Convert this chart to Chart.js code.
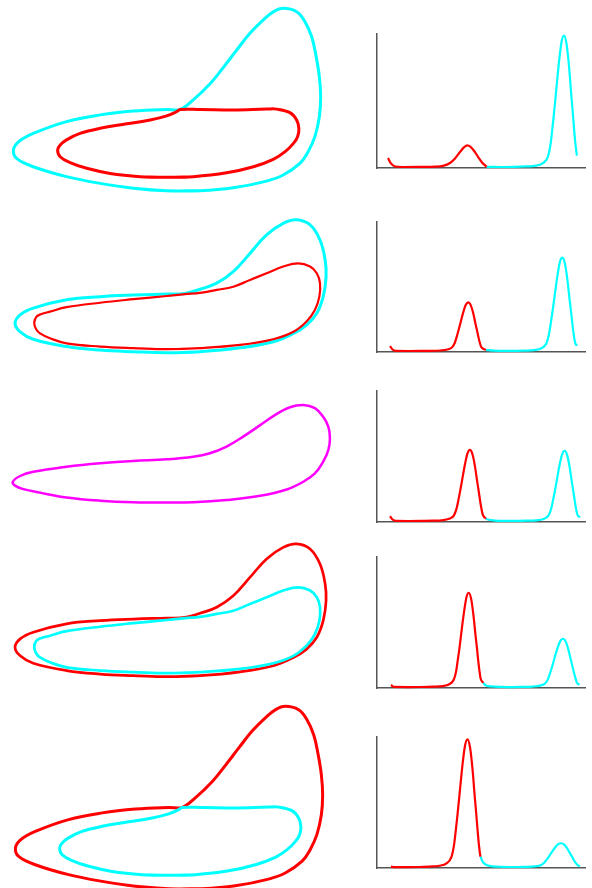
<!DOCTYPE html>
<html lang="en">
<head>
  <meta charset="UTF-8">
  <title>Limit cycles and spectra</title>
  <script src="https://cdn.jsdelivr.net/npm/chart.js"></script>
  <style>
    html, body {
      margin: 0;
      padding: 0;
      background: #fff;
      overflow: hidden;
    }
    body {
      position: relative;
      width: 592px;
      height: 888px;
    }
    canvas {
      position: absolute;
    }
  </style>
</head>
<body>
  <script>
    // phase-plane loops, [x, y]
    const bigLoop = [
      [5.21, 0.04], [4.17, 0.12], [3.13, 0.27], [2.08, 0.48], [1.04, 0.79], [0.52, 1.05],
      [0.42, 1.31], [0.57, 1.56], [1.04, 1.83], [2.08, 2.20], [3.13, 2.41], [4.17, 2.53],
      [5.21, 2.58], [5.63, 2.58], [6.04, 2.88], [6.58, 3.40], [7.00, 3.92], [7.40, 4.44],
      [7.81, 4.96], [8.23, 5.38], [8.54, 5.63], [8.85, 5.74], [9.27, 5.63], [9.53, 5.32],
      [9.74, 4.85], [9.88, 4.23], [9.98, 3.60], [10.02, 2.98], [9.98, 2.35], [9.84, 1.73],
      [9.63, 1.26], [9.38, 0.90], [8.85, 0.53], [8.33, 0.34], [7.29, 0.13], [6.25, 0.04]
    ];
    const smallLoop = [
      [5.21, 0.46], [4.38, 0.48], [3.44, 0.58], [2.71, 0.74], [2.19, 0.92], [1.88, 1.10],
      [1.80, 1.31], [1.88, 1.47], [2.08, 1.63], [2.50, 1.83], [3.13, 1.99], [3.96, 2.13],
      [4.69, 2.25], [5.21, 2.38], [5.52, 2.51], [5.63, 2.58], [6.25, 2.58], [7.29, 2.56],
      [8.33, 2.59], [8.65, 2.59], [9.06, 2.48], [9.27, 2.25], [9.34, 1.99], [9.30, 1.73],
      [9.17, 1.52], [8.91, 1.26], [8.54, 1.02], [7.92, 0.79], [7.08, 0.60], [6.04, 0.48]
    ];
    const midOuterLoop = [
      [5.21, 0.73], [4.17, 0.76], [3.13, 0.81], [2.08, 0.92], [1.04, 1.15], [0.63, 1.38],
      [0.47, 1.65], [0.63, 1.91], [1.04, 2.12], [2.08, 2.38], [3.13, 2.48], [4.17, 2.53],
      [5.21, 2.56], [5.78, 2.58], [6.25, 2.71], [6.77, 2.90], [7.29, 3.26], [7.81, 3.83],
      [8.33, 4.41], [8.85, 4.77], [9.27, 4.88], [9.69, 4.72], [10.00, 4.25], [10.16, 3.63],
      [10.19, 3.10], [10.10, 2.48], [9.90, 1.96], [9.58, 1.59], [9.17, 1.33], [8.54, 1.07],
      [7.50, 0.88], [6.25, 0.76]
    ];
    const midInnerLoop = [
      [5.21, 0.84], [4.17, 0.87], [3.13, 0.92], [2.08, 1.02], [1.56, 1.18], [1.25, 1.33],
      [1.13, 1.46], [1.07, 1.65], [1.13, 1.84], [1.25, 1.92], [1.56, 2.01], [2.08, 2.15],
      [3.13, 2.29], [4.17, 2.40], [5.21, 2.50], [5.78, 2.56], [6.25, 2.60], [6.77, 2.69],
      [7.29, 2.79], [7.81, 3.00], [8.33, 3.21], [8.85, 3.42], [9.32, 3.52], [9.69, 3.42],
      [9.90, 3.21], [10.00, 2.90], [9.98, 2.48], [9.84, 2.06], [9.58, 1.70], [9.17, 1.38],
      [8.54, 1.15], [7.50, 0.97], [6.25, 0.87]
    ];
    const singleLoop = [
      [5.21, 1.17], [4.17, 1.18], [3.13, 1.23], [2.08, 1.33], [1.25, 1.48], [0.73, 1.59],
      [0.47, 1.70], [0.40, 1.82], [0.63, 2.00], [1.04, 2.13], [2.08, 2.29], [3.13, 2.40],
      [4.17, 2.47], [5.21, 2.52], [6.04, 2.60], [6.56, 2.71], [7.08, 2.92], [7.60, 3.23],
      [8.13, 3.59], [8.65, 3.94], [9.06, 4.15], [9.48, 4.22], [9.84, 4.12], [10.10, 3.85],
      [10.26, 3.54], [10.31, 3.18], [10.26, 2.81], [10.10, 2.45], [9.84, 2.08], [9.48, 1.82],
      [8.96, 1.58], [8.13, 1.38], [7.08, 1.25], [6.04, 1.18]
    ];

    // power spectra, [frequency, power %]
    const spec1Red = [
      [5.3, 7.5], [6.7, 3.4], [8.7, 1.1], [12, 0.75], [20.7, 0.8], [27.9, 1.0], [31.7, 1.6],
      [35.1, 3.7], [37.5, 7.1], [39.9, 11.9], [41.8, 15.4], [43.4, 16.9], [45.0, 15.8],
      [46.9, 12.3], [48.8, 7.8], [50.5, 4.1], [52.7, 0.9]
    ];
    const spec1Cyan = [
      [52.7, 0.9], [60, 0.75], [66, 0.8], [71.6, 1.14], [76.4, 1.73], [79.8, 3.69], [82.2, 8.6],
      [83.4, 17.4], [84.3, 29.2], [85.1, 40.9], [85.9, 53.7], [86.8, 68.4], [87.5, 79.2],
      [88.7, 93.9], [89.9, 98.75], [91.1, 92.9], [92.3, 76.2], [93.4, 54.6], [94.1, 41.9],
      [94.7, 30.2], [95.3, 19.4], [96.1, 9.2]
    ];
    const spec2Red = [
      [6.25, 4.6], [7.45, 1.9], [9.1, 0.85], [15, 0.77], [21, 0.8], [25.6, 0.92], [30.4, 1.14],
      [33.8, 1.89], [36.2, 3.76], [37.4, 7.13], [38.3, 11.6], [39.1, 16.1], [39.9, 21.0],
      [40.8, 26.6], [41.5, 30.7], [42.7, 36.3], [43.9, 38.2], [45.1, 35.9], [46.3, 29.6],
      [47.4, 21.3], [48.1, 16.5], [48.7, 12.0], [49.3, 7.9], [50.05, 4.1], [51.1, 2.45],
      [52.4, 1.7]
    ];
    const spec2Cyan = [
      [52.4, 1.7], [56, 1.0], [62, 0.8], [66, 0.8], [70.8, 1.06], [75.6, 1.49], [79.0, 2.9],
      [81.4, 6.5], [82.6, 13.0], [83.5, 21.6], [84.3, 30.2], [85.1, 39.5], [86.0, 50.3],
      [86.7, 58.2], [87.9, 69.0], [89.1, 72.6], [90.3, 68.3], [91.5, 56.1], [92.6, 40.3],
      [93.3, 30.9], [93.9, 22.3], [94.5, 14.4], [95.25, 7.2], [96.2, 4.8]
    ];
    const spec3Red = [
      [6.25, 4.4], [7.45, 1.9], [9.1, 0.85], [15, 0.77], [21, 0.8], [26.4, 0.99], [31.2, 1.31],
      [34.6, 2.4], [37.0, 5.1], [38.2, 10.0], [39.1, 16.5], [39.9, 23.0], [40.7, 30.0],
      [41.6, 38.2], [42.3, 44.1], [43.5, 52.3], [44.7, 55.0], [45.9, 51.7], [47.1, 42.5],
      [48.2, 30.6], [48.9, 23.5], [49.5, 17.0], [50.1, 11.1], [50.85, 5.65], [51.9, 3.2],
      [52.4, 2.7]
    ];
    const spec3Cyan = [
      [52.4, 2.7], [53.35, 1.85], [56.7, 1.1], [61.5, 0.85], [66, 0.8], [71.9, 0.98],
      [76.7, 1.31], [80.1, 2.38], [82.5, 5.06], [83.7, 9.88], [84.6, 16.3], [85.4, 22.7],
      [86.2, 29.7], [87.1, 37.8], [87.8, 43.7], [89.0, 51.7], [90.2, 54.4], [91.4, 51.2],
      [92.6, 42.0], [93.7, 30.3], [94.4, 23.3], [95.0, 16.9], [95.6, 11.0], [96.35, 5.6],
      [97.6, 3.5]
    ];
    const spec4Red = [
      [6.7, 2.3], [8.2, 0.8], [15, 0.7], [21, 0.75], [27.1, 0.99], [31.6, 1.42], [34.7, 2.86],
      [36.95, 6.46], [38.06, 12.9], [38.86, 21.6], [39.63, 30.2], [40.34, 39.6], [41.19, 50.4],
      [41.87, 58.3], [42.98, 69.1], [44.1, 72.7], [45.22, 68.4], [46.33, 56.1], [47.36, 40.3],
      [48.03, 30.9], [48.57, 22.3], [49.15, 14.4], [49.82, 7.18], [51.1, 3.9]
    ];
    const spec4Cyan = [
      [51.1, 3.9], [52.14, 2.14], [55, 1.2], [60, 0.85], [65, 0.72], [69.3, 0.85], [74.6, 1.07],
      [78.3, 1.81], [80.94, 3.65], [82.26, 6.97], [83.21, 11.4], [84.11, 15.8], [84.96, 20.6],
      [85.96, 26.2], [86.76, 30.2], [88.08, 35.8], [89.4, 37.6], [90.72, 35.4], [92.04, 29.1],
      [93.26, 21.0], [94.05, 16.2], [94.69, 11.8], [95.37, 7.7], [96.17, 4.0], [97.3, 2.4]
    ];
    const spec5Red = [
      [6.7, 1.0], [8.5, 0.7], [15, 0.7], [20, 0.75], [25.2, 1.09], [30.0, 1.68], [33.4, 3.6],
      [35.8, 8.5], [37.0, 17.3], [37.9, 29.0], [38.7, 40.7], [39.5, 53.3], [40.4, 68.0],
      [41.1, 78.7], [42.3, 93.3], [43.5, 98.2], [44.7, 92.35], [45.9, 75.8], [47.0, 54.3],
      [47.7, 41.65], [48.3, 29.95], [48.9, 19.2], [49.65, 9.5], [49.85, 8.7]
    ];
    const spec5Cyan = [
      [49.85, 8.7], [50.7, 5.1], [52.15, 2.65], [55.5, 1.29], [60.3, 0.9], [65.3, 0.77],
      [71.4, 0.88], [75.7, 1.25], [78.73, 2.16], [80.26, 3.79], [81.35, 5.98], [82.39, 8.16],
      [83.37, 10.5], [84.52, 13.3], [85.45, 15.3], [86.98, 18.0], [88.5, 18.9], [90.02, 17.8],
      [91.55, 14.7], [92.96, 10.7], [93.87, 8.34], [94.61, 6.16], [95.4, 4.16], [96.31, 2.34],
      [97.6, 1.3]
    ];

    const RED = '#ff0000';
    const CYAN = '#00ffff';
    const MAGENTA = '#ff00ff';
    const PAD = 6;

    function addCanvas(left, top, width, height) {
      const c = document.createElement('canvas');
      c.width = width;
      c.height = height;
      c.style.left = left + 'px';
      c.style.top = top + 'px';
      document.body.appendChild(c);
      return c;
    }

    const toXY = pts => pts.map(([x, y]) => ({ x, y }));

    // wrap the ends so the spline closes smoothly
    function closeLoop(pts) {
      return [pts[pts.length - 1], ...pts, pts[0], pts[1]];
    }

    const baseOptions = {
      responsive: false,
      animation: false,
      events: [],
      layout: { padding: PAD },
      plugins: { legend: { display: false }, tooltip: { enabled: false } }
    };

    function drawLoops(left, top, loops) {
      const canvas = addCanvas(left - PAD, top - PAD, 336 + 2 * PAD, 192 + 2 * PAD);
      new Chart(canvas, {
        type: 'scatter',
        data: {
          datasets: loops.map(([pts, color, width]) => ({
            data: toXY(closeLoop(pts)),
            showLine: true,
            borderColor: color,
            borderWidth: width,
            pointRadius: 0,
            tension: 0.4,
            clip: false
          }))
        },
        options: {
          ...baseOptions,
          scales: {
            x: { type: 'linear', display: false, min: 0, max: 10.5 },
            y: { type: 'linear', display: false, min: 0, max: 6 }
          }
        }
      });
    }

    function axisOpts() {
      return {
        type: 'linear',
        min: 0,
        max: 100,
        grid: { display: false, drawTicks: false },
        ticks: { display: false },
        border: { display: true, color: '#555', width: 1.5 }
      };
    }

    function drawSpectrum(top, height, red, cyan) {
      const canvas = addCanvas(377 - PAD, top - PAD, 208 + 2 * PAD, height + 2 * PAD);
      const line = (pts, color) => ({
        data: toXY(pts),
        showLine: true,
        borderColor: color,
        borderWidth: 2.2,
        pointRadius: 0,
        cubicInterpolationMode: 'monotone',
        clip: false
      });
      new Chart(canvas, {
        type: 'scatter',
        data: { datasets: [line(red, RED), line(cyan, CYAN)] },
        options: {
          ...baseOptions,
          scales: { x: axisOpts(), y: axisOpts() }
        }
      });
    }

    // left column: trajectories
    drawLoops(0, 0, [[smallLoop, RED, 3], [bigLoop, CYAN, 3]]);
    drawLoops(0, 184, [[midInnerLoop, RED, 2.2], [midOuterLoop, CYAN, 3]]);
    drawLoops(0, 348, [[singleLoop, MAGENTA, 2.5]]);
    drawLoops(0, 508, [[midInnerLoop, CYAN, 2.7], [midOuterLoop, RED, 2.7]]);
    drawLoops(2, 698, [[smallLoop, CYAN, 3], [bigLoop, RED, 3]]);

    // right column: spectra
    drawSpectrum(34, 134, spec1Red, spec1Cyan);
    drawSpectrum(222, 130, spec2Red, spec2Cyan);
    drawSpectrum(391, 131, spec3Red, spec3Cyan);
    drawSpectrum(557, 131, spec4Red, spec4Cyan);
    drawSpectrum(737, 131, spec5Red, spec5Cyan);
  </script>
</body>
</html>
